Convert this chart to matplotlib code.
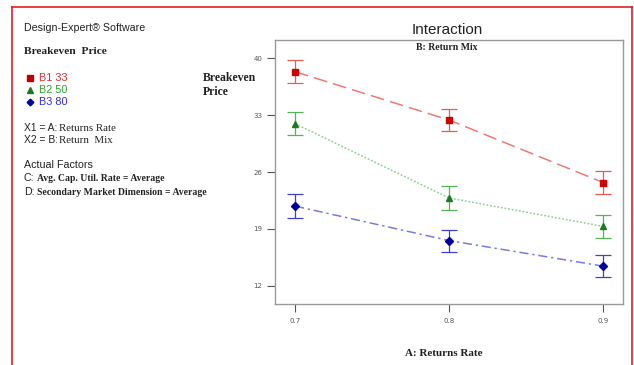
import matplotlib
matplotlib.use("Agg")
import matplotlib.pyplot as plt
from matplotlib.lines import Line2D

# Data
x_levels = [0.7, 0.8, 0.9]
b1_33 = [38.35, 32.4, 24.7]
b2_50 = [31.95, 22.8, 19.3]
b3_80 = [21.8, 17.55, 14.4]
err_b1 = [1.4, 1.35, 1.4]
err_b2 = [1.4, 1.45, 1.4]
err_b3 = [1.45, 1.35, 1.35]
y_ticks = [12, 19, 26, 33, 40]
x_ticks = [0.7, 0.8, 0.9]
series_names = ["B1 33", "B2 50", "B3 80"]

W, H = 634, 365
fig = plt.figure(figsize=(W / 100, H / 100), dpi=100)
fig.patch.set_facecolor("white")

def fx(px):
    return px / W

def fy(py):
    return 1 - py / H

ax = fig.add_axes([fx(275), fy(304), fx(623) - fx(275), fy(40) - fy(304)])
for s in ax.spines.values():
    s.set_color("#9a9a9a")
    s.set_linewidth(1.0)

series = [
    (b1_33, err_b1, "#f07878", "#d00000", "s", (0, (9, 4)), "#e85a5a"),
    (b2_50, err_b2, "#90d090", "#1e7a1e", "^", (0, (1.2, 1.2)), "#55b555"),
    (b3_80, err_b3, "#7a7ae0", "#0000a0", "D", (0, (6, 2.5, 1.5, 2.5)), "#4040d0"),
]
for vals, errs, lc, mc, mk, ls, ec in series:
    ax.plot(x_levels, vals, color=lc, linestyle=ls, linewidth=1.1, zorder=2)
    ax.errorbar(x_levels, vals, yerr=errs, fmt="none", ecolor=ec,
                elinewidth=0.9, capsize=5.5, capthick=0.9, zorder=3)
    ax.plot(x_levels, vals, linestyle="none", marker=mk, color=mc,
            markersize=5 if mk != "D" else 4, zorder=4)

ax.set_xlim(0.687, 0.9128)
ax.set_ylim(9.74, 42.26)
ax.set_yticks(y_ticks)
ax.set_yticklabels([str(v) for v in y_ticks])
ax.set_xticks(x_ticks)
ax.set_xticklabels([f"{v:.1f}" for v in x_ticks])
ax.tick_params(axis="both", labelsize=5, colors="#555555", length=6, width=0.8,
               direction="out", pad=4)
ax.tick_params(axis="y", pad=3)

# Titles & axis labels
fig.text(fx(447), fy(30), "Interaction", ha="center", va="center",
         fontsize=11, family="Liberation Sans", color="#222222")
fig.text(fx(447), fy(48), "B: Return Mix", ha="center", va="center",
         fontsize=7, family="Liberation Serif", weight="bold", color="#222222")
fig.text(fx(444), fy(353), "A: Returns Rate", ha="center", va="center",
         fontsize=8, family="Liberation Serif", weight="bold", color="#222222")
fig.text(fx(203), fy(78), "Breakeven", ha="left", va="center",
         fontsize=8.5, family="Liberation Serif", weight="bold", color="#222222")
fig.text(fx(203), fy(92), "Price", ha="left", va="center",
         fontsize=8.5, family="Liberation Serif", weight="bold", color="#222222")

# Left info panel
LX = 24
fig.text(fx(LX), fy(28), "Design-Expert\u00ae Software", ha="left", va="center",
         fontsize=7.7, family="Liberation Sans", color="#222222")
fig.text(fx(LX), fy(52), "Breakeven  Price", ha="left", va="center",
         fontsize=8.2, family="Liberation Serif", weight="bold", color="#222222")

leg_y = [78, 90, 102]
leg_cols = ["#e03030", "#30a030", "#3030c8"]
leg_mk = [("s", "#c00000"), ("^", "#1e7a1e"), ("D", "#0000a0")]
for name, yy, tc, (mk, mc) in zip(series_names, leg_y, leg_cols, leg_mk):
    fig.add_artist(Line2D([fx(30)], [fy(yy)], marker=mk, color=mc,
                          markersize=4.2 if mk != "D" else 3.4,
                          linestyle="none", transform=fig.transFigure))
    fig.text(fx(39), fy(yy), name, ha="left", va="center", fontsize=7.8,
             family="Liberation Sans", color=tc)


def two_part(yc, sans_txt, serif_txt, sans_size, serif_size, bold, gap):
    yb = fy(yc + 3)
    t1 = fig.text(fx(LX), yb, sans_txt, ha="left", va="baseline",
                  fontsize=sans_size, family="Liberation Sans", color="#222222")
    ax.annotate(serif_txt, xy=(1, yb), xycoords=(t1, "figure fraction"),
                xytext=(gap, 0), textcoords="offset points", ha="left",
                va="baseline", fontsize=serif_size, family="Liberation Serif",
                weight="bold" if bold else "normal", color="#222222",
                annotation_clip=False)


two_part(128, "X1 = A:", "Returns Rate", 7.4, 7.8, False, 1.0)
two_part(140, "X2 = B:", "Return  Mix", 7.4, 7.8, False, 1.0)

fig.text(fx(LX), fy(165), "Actual Factors", ha="left", va="center",
         fontsize=7.7, family="Liberation Sans", color="#222222")
two_part(178, "C:", "Avg. Cap. Util. Rate = Average", 7.7, 7.0, True, 2.0)
two_part(192, "D:", "Secondary Market Dimension = Average", 7.7, 7.0, True, 2.0)

# Red frame (left, top, right)
red = "#e02020"
fig.add_artist(Line2D([fx(12), fx(12)], [0, fy(7)], color=red, linewidth=1.2,
                      transform=fig.transFigure))
fig.add_artist(Line2D([fx(12), fx(632)], [fy(7), fy(7)], color=red,
                      linewidth=1.2, transform=fig.transFigure))
fig.add_artist(Line2D([fx(632), fx(632)], [0, fy(7)], color=red, linewidth=1.2,
                      transform=fig.transFigure))

fig.savefig("out.png", dpi=100)
